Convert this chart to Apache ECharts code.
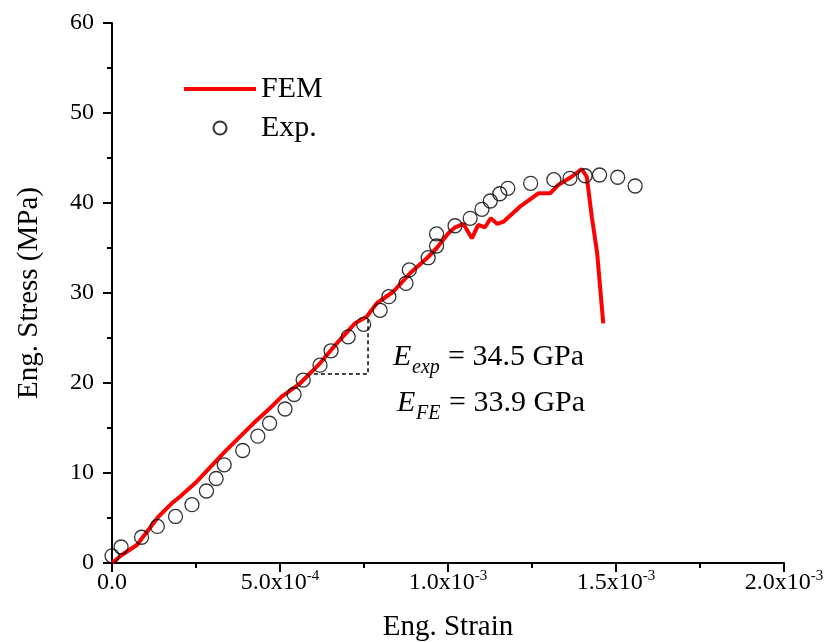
<!DOCTYPE html>
<html>
<head>
<meta charset="utf-8">
<script src="https://cdn.jsdelivr.net/npm/echarts@6/dist/echarts.min.js"></script>
<style>
html,body{margin:0;padding:0;background:#fff;overflow:hidden;}
#chart{width:824px;height:642px;}
</style>
</head>
<body>
<div id="chart"></div>
<script>
// Strain values are in units of 1e-3
var femStrain = [0.000,0.029,0.074,0.138,0.178,0.202,0.252,0.336,0.421,0.470,0.505,0.560,0.619,0.669,0.723,0.758,0.788,0.837,0.887,0.937,0.966,1.001,1.021,1.046,1.071,1.090,1.110,1.127,1.147,1.165,1.214,1.269,1.304,1.328,1.368,1.398,1.413,1.428,1.444,1.462];
var femStress = [0.0,0.89,2.0,5.14,6.63,7.37,9.03,12.37,15.52,17.19,18.48,19.97,22.19,24.41,26.63,27.37,28.86,30.14,32.19,33.86,34.97,36.63,37.30,37.67,36.08,37.56,37.30,38.30,37.67,37.92,39.59,41.08,41.08,42.0,42.92,43.78,42.92,38.48,34.41,26.63];

var expStrain = [0.000,0.027,0.088,0.135,0.189,0.238,0.281,0.310,0.334,0.389,0.434,0.469,0.515,0.542,0.569,0.619,0.652,0.703,0.749,0.798,0.824,0.875,0.885,0.941,0.966,0.966,1.021,1.066,1.101,1.126,1.154,1.178,1.246,1.315,1.363,1.408,1.451,1.505,1.557];
var expStress = [0.8,1.78,2.86,4.06,5.17,6.48,8.0,9.39,10.91,12.5,14.09,15.53,17.11,18.72,20.33,21.98,23.58,25.13,26.52,28.08,29.59,31.08,32.56,33.92,35.22,36.56,37.47,38.3,39.3,40.22,41.03,41.63,42.19,42.59,42.74,43.03,43.11,42.86,41.89];

var slopeStrain = [0.580,0.762,0.762];
var slopeStress = [21.0,21.0,27.6];

var xTickBase = ['0.0','5.0x10','1.0x10','1.5x10','2.0x10'];
var xTickExp  = ['','-4','-3','-3','-3'];
var seriesNames = ['FEM','Exp.'];

var FONT = '"Liberation Serif","Times New Roman",serif';

function pairs(xs, ys){ return xs.map(function(x,i){ return [x, ys[i]]; }); }

var chart = echarts.init(document.getElementById('chart'), null, {renderer:'canvas'});
var axisCommon = {
  axisLine:{show:true, onZero:false, lineStyle:{color:'#000', width:2}},
  axisTick:{show:true, inside:false, length:9, lineStyle:{color:'#000', width:2}},
  minorTick:{show:true, splitNumber:2, length:5, lineStyle:{color:'#000', width:2}},
  splitLine:{show:false},
  minorSplitLine:{show:false}
};
var option = {
  animation:false,
  backgroundColor:'#fff',
  grid:{left:112, right:40, top:23, bottom:79, containLabel:false, outerBoundsMode:'none'},
  legend:{
    data:[
      {name:seriesNames[0], itemStyle:{opacity:0}, lineStyle:{width:4}},
      {name:seriesNames[1]}
    ],
    orient:'vertical',
    left:182, top:74, padding:0,
    itemWidth:72, itemHeight:13, itemGap:9,
    textStyle:{fontFamily:FONT, fontSize:30, color:'#000'}
  },
  xAxis:Object.assign({
    type:'value', min:0, max:2, interval:0.5,
    name:'Eng. Strain', nameLocation:'middle', nameGap:50,
    nameTextStyle:{fontFamily:FONT, fontSize:29, color:'#000'},
    axisLabel:{
      margin:6, color:'#000',
      formatter:function(v){
        var i = Math.round(v/0.5);
        var s = '{b|' + xTickBase[i] + '}';
        if (xTickExp[i]) s += '{s|' + xTickExp[i] + '}';
        return s;
      },
      rich:{
        b:{fontFamily:FONT, fontSize:24, lineHeight:26, verticalAlign:'bottom', color:'#000'},
        s:{fontFamily:FONT, fontSize:15, lineHeight:15, verticalAlign:'top', color:'#000'}
      }
    }
  }, axisCommon),
  yAxis:Object.assign({
    type:'value', min:0, max:60, interval:10,
    name:'Eng. Stress (MPa)', nameLocation:'middle', nameGap:68, nameRotate:90,
    nameTextStyle:{fontFamily:FONT, fontSize:29, color:'#000'},
    axisLabel:{margin:18, fontFamily:FONT, fontSize:24, color:'#000'}
  }, axisCommon),
  graphic:[
    {type:'text', left:393, top:342, style:{text:'E', font:'italic 30px '+FONT, fill:'#000'}},
    {type:'text', left:412, top:358, style:{text:'exp', font:'italic 20px '+FONT, fill:'#000'}},
    {type:'text', left:448, top:342, style:{text:'= 34.5 GPa', font:'30px '+FONT, fill:'#000'}},
    {type:'text', left:397, top:388, style:{text:'E', font:'italic 30px '+FONT, fill:'#000'}},
    {type:'text', left:416, top:404, style:{text:'FE', font:'italic 20px '+FONT, fill:'#000'}},
    {type:'text', left:449, top:388, style:{text:'= 33.9 GPa', font:'30px '+FONT, fill:'#000'}}
  ],
  series:[
    {
      name:'FEM', type:'line', data:pairs(femStrain, femStress),
      symbol:'none', smooth:false,
      lineStyle:{color:'#ff0000', width:4},
      itemStyle:{color:'#ff0000'},
      z:2
    },
    {
      name:'slope', type:'line', data:pairs(slopeStrain, slopeStress),
      symbol:'none', lineStyle:{color:'#000', width:1.5, type:[4,3]},
      z:1, silent:true
    },
    {
      name:'Exp.', type:'scatter', data:pairs(expStrain, expStress),
      symbol:'circle', symbolSize:14,
      itemStyle:{color:'rgba(255,255,255,0)', borderColor:'#000', borderWidth:1.3},
      z:3
    }
  ]
};
chart.setOption(option);
</script>
</body>
</html>
